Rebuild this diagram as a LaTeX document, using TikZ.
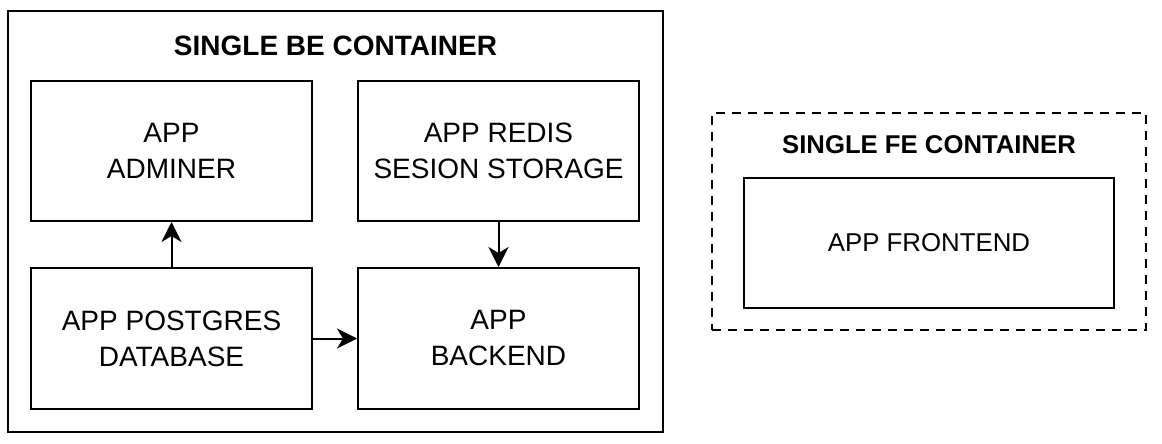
\documentclass[tikz,border=0pt]{standalone}
\usepackage{fontspec}
\setmainfont{Liberation Sans}
\usetikzlibrary{arrows.meta}
\tikzset{
  box/.style={draw=black, line width=2pt, rectangle, align=center, inner sep=0pt,
    font=\fontsize{28}{36}\selectfont},
  outerbox/.style={draw=black, line width=2.2pt, rectangle, inner sep=0pt},
  dashbox/.style={draw=black, line width=2pt, rectangle, inner sep=0pt, dash pattern=on 9pt off 7pt},
  titletext/.style={font=\fontsize{28}{34}\selectfont\bfseries, inner sep=0pt},
  fetitle/.style={font=\fontsize{25.7}{30}\selectfont\bfseries, inner sep=0pt},
  conn/.style={line width=2pt, -{Stealth[length=20pt,width=20pt,inset=6pt]}},
}
\begin{document}
\begin{tikzpicture}[x=1pt,y=-1pt]
\fill[white] (0,0) rectangle (1162,444);
\useasboundingbox (0,0) rectangle (1162,444);
% BE container
\node[outerbox, minimum width=655pt, minimum height=421pt] (be) at (335.5,221.5) {};
\node[titletext] (betitle) at (335.5,45.5) {SINGLE BE CONTAINER};
\node[box, minimum width=281pt, minimum height=140pt] (adminer) at (171.5,151) {APP\\ADMINER};
\node[box, minimum width=281pt, minimum height=140pt] (redis) at (498.5,151) {APP REDIS\\SESION STORAGE};
\node[box, minimum width=281pt, minimum height=141pt] (postgres) at (171.5,338.5) {APP POSTGRES\\DATABASE};
\node[box, minimum width=281pt, minimum height=141pt] (backend) at (498.5,338.5) {APP\\BACKEND};
\draw[conn] (postgres.north) -- (adminer.south);
\draw[conn] (redis.south) -- (backend.north);
\draw[conn] (postgres.east) -- (backend.west);
% FE container
\node[dashbox, minimum width=434pt, minimum height=217pt] (fe) at (929,221.5) {};
\node[fetitle] (fetitle) at (929,145) {SINGLE FE CONTAINER};
\node[box, minimum width=370pt, minimum height=130pt, font=\fontsize{25.8}{32}\selectfont] (frontend) at (929,243) {APP FRONTEND};
\end{tikzpicture}
\end{document}
